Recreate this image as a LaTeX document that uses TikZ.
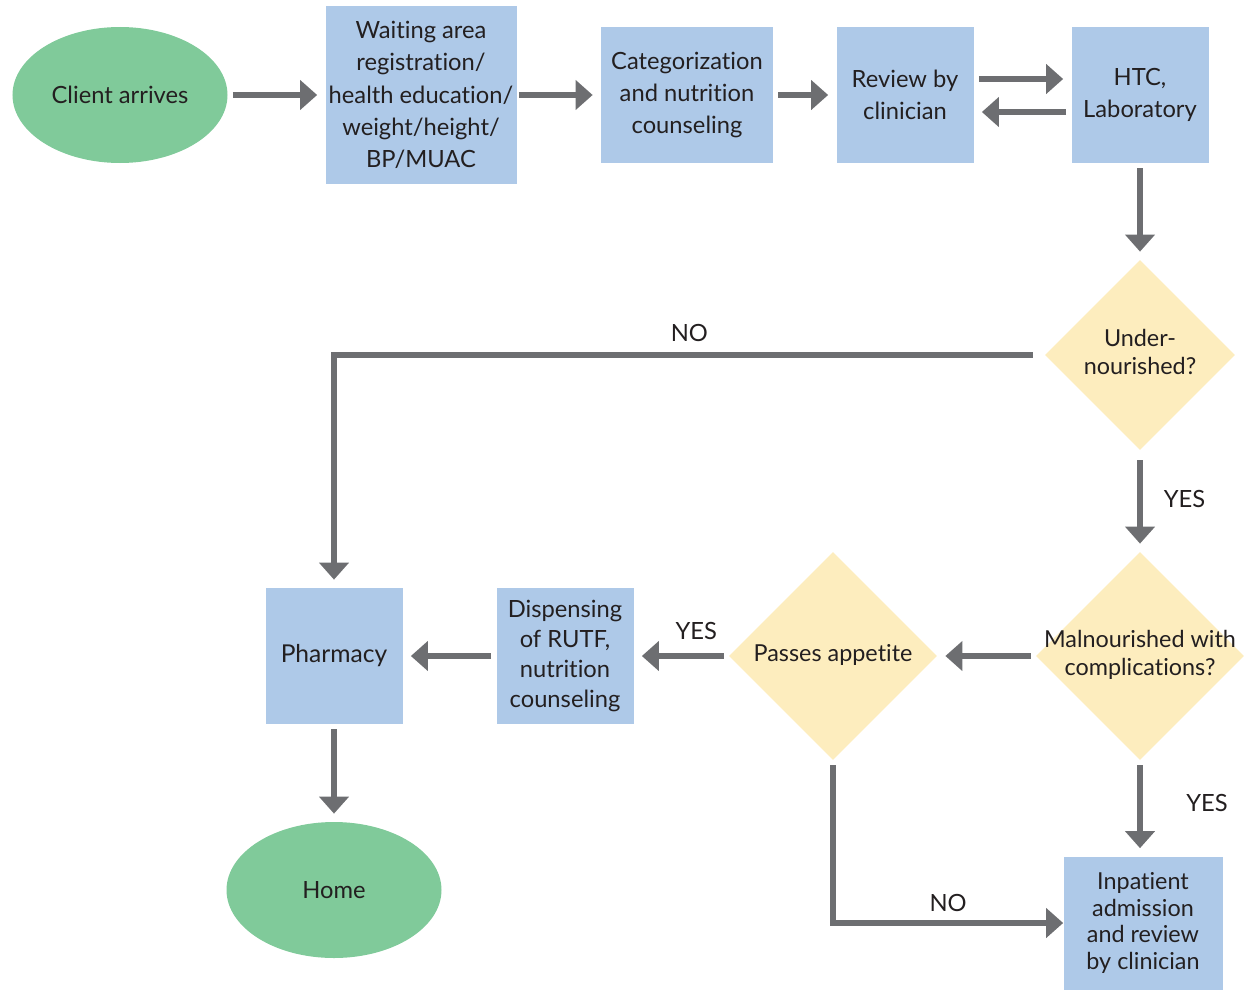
\documentclass[tikz,border=0pt]{standalone}
\usepackage{fontspec}
\setmainfont{Lato}[Ligatures=CommonOff]
\usetikzlibrary{arrows.meta,shapes.geometric,positioning}

\definecolor{stepblue}{HTML}{AEC9E8}
\definecolor{endgreen}{HTML}{80CA9A}
\definecolor{askyellow}{HTML}{FDEDBE}
\definecolor{flowgray}{HTML}{6D6E71}
\definecolor{inkgray}{HTML}{231F20}

% text of a diamond, does not widen the shape
\newcommand{\asktext}[1]{\makebox[0pt]{\begin{tabular}{@{}c@{}}#1\end{tabular}}}

\tikzset{
  stepbox/.style={rectangle, fill=stepblue, align=center, inner sep=0pt,
    text=inkgray, font=\fontsize{13.5}{18.4}\selectfont},
  endpoint/.style={ellipse, fill=endgreen, minimum width=4.3cm, minimum height=2.72cm,
    inner sep=0pt, text=inkgray, font=\fontsize{13.5}{18}\selectfont},
  decision/.style={diamond, fill=askyellow, minimum size=3.8cm, inner sep=0pt,
    text=inkgray, font=\fontsize{13.3}{15.5}\selectfont},
  flow/.style={draw=flowgray, line width=3.4pt,
    -{Triangle[length=0.34cm,width=0.58cm]}, shorten >=0.16cm, shorten <=0.1cm},
  tag/.style={text=inkgray, font=\fontsize{13.5}{15}\selectfont}
}

\begin{document}
\begin{tikzpicture}[node distance=2cm,on grid]
\useasboundingbox (0,0) rectangle (24.94,-19.8);

% top row
  \node[endpoint] (client) at (2.4,-1.9) {Client arrives};
  \node[stepbox, minimum width=3.82cm, minimum height=3.56cm] (waiting) [right=6.02cm of client]
    {Waiting area\\registration/\\health education/\\weight/height/\\BP/MUAC};
  \node[stepbox, minimum width=3.44cm, minimum height=2.72cm] (categ) [right=5.32cm of waiting]
    {Categorization\\and nutrition\\counseling};
  \node[stepbox, minimum width=2.74cm, minimum height=2.72cm] (review) [right=4.36cm of categ]
    {Review by\\clinician};
  \node[stepbox, minimum width=2.74cm, minimum height=2.72cm] (htc) [right=4.7cm of review]
    {HTC,\\Laboratory};

% decisions
  \node[decision] (under) [below=5.2cm of htc] {\asktext{Under-\\nourished?}};
  \node[decision, minimum size=4.16cm] (malnour) [below=6.02cm of under]
    {\asktext{Malnourished with\\complications?}};
  \node[decision, minimum size=4.16cm] (passes) [left=6.14cm of malnour]
    {\asktext{Passes appetite}};

% bottom part
  \node[stepbox, minimum width=2.74cm, minimum height=2.72cm, font=\fontsize{13.5}{17}\selectfont]
    (disp) [left=5.36cm of passes] {Dispensing\\of RUTF,\\nutrition\\counseling};
  \node[stepbox, minimum width=2.74cm, minimum height=2.72cm, font=\fontsize{14}{18}\selectfont]
    (pharm) [left=4.62cm of disp] {Pharmacy};
  \node[endpoint] (home) [below=4.68cm of pharm] {Home};
  \node[stepbox, minimum width=3.18cm, minimum height=2.66cm, font=\fontsize{13.3}{15.3}\selectfont]
    (inpat) at (22.86,-18.46) {Inpatient\\admission\\and review\\by clinician};

% connectors
  \draw[flow] (client) -- (waiting);
  \draw[flow, shorten <=0.04cm] (waiting) -- (categ);
  \draw[flow] (categ) -- (review);
  \draw[flow] ([yshift=0.32cm]review.east) -- ([yshift=0.32cm]htc.west);
  \draw[flow] ([yshift=-0.34cm]htc.west) -- ([yshift=-0.34cm]review.east);
  \draw[flow] (htc) -- (under);
  \draw[flow, shorten <=0.24cm] (under.west) -| node[tag, above, pos=0.25, yshift=0.08cm] {NO} (pharm);
  \draw[flow, shorten <=0.2cm] (under) -- node[tag, right=0.3cm, yshift=0.05cm] {YES} (malnour);
  \draw[flow] (malnour) -- (passes);
  \draw[flow] (passes) -- node[tag, above, xshift=0.3cm, yshift=0.14cm] {YES} (disp);
  \draw[flow] (malnour) -- node[tag, right=0.75cm, yshift=0.1cm] {YES} (malnour |- inpat.north);
  \draw[flow] (disp) -- (pharm);
  \draw[flow] (pharm) -- (home);
  \draw[flow, shorten >=0pt] (passes) |- node[tag, above, pos=0.75, yshift=0.04cm] {NO} (inpat.west);
\end{tikzpicture}
\end{document}
